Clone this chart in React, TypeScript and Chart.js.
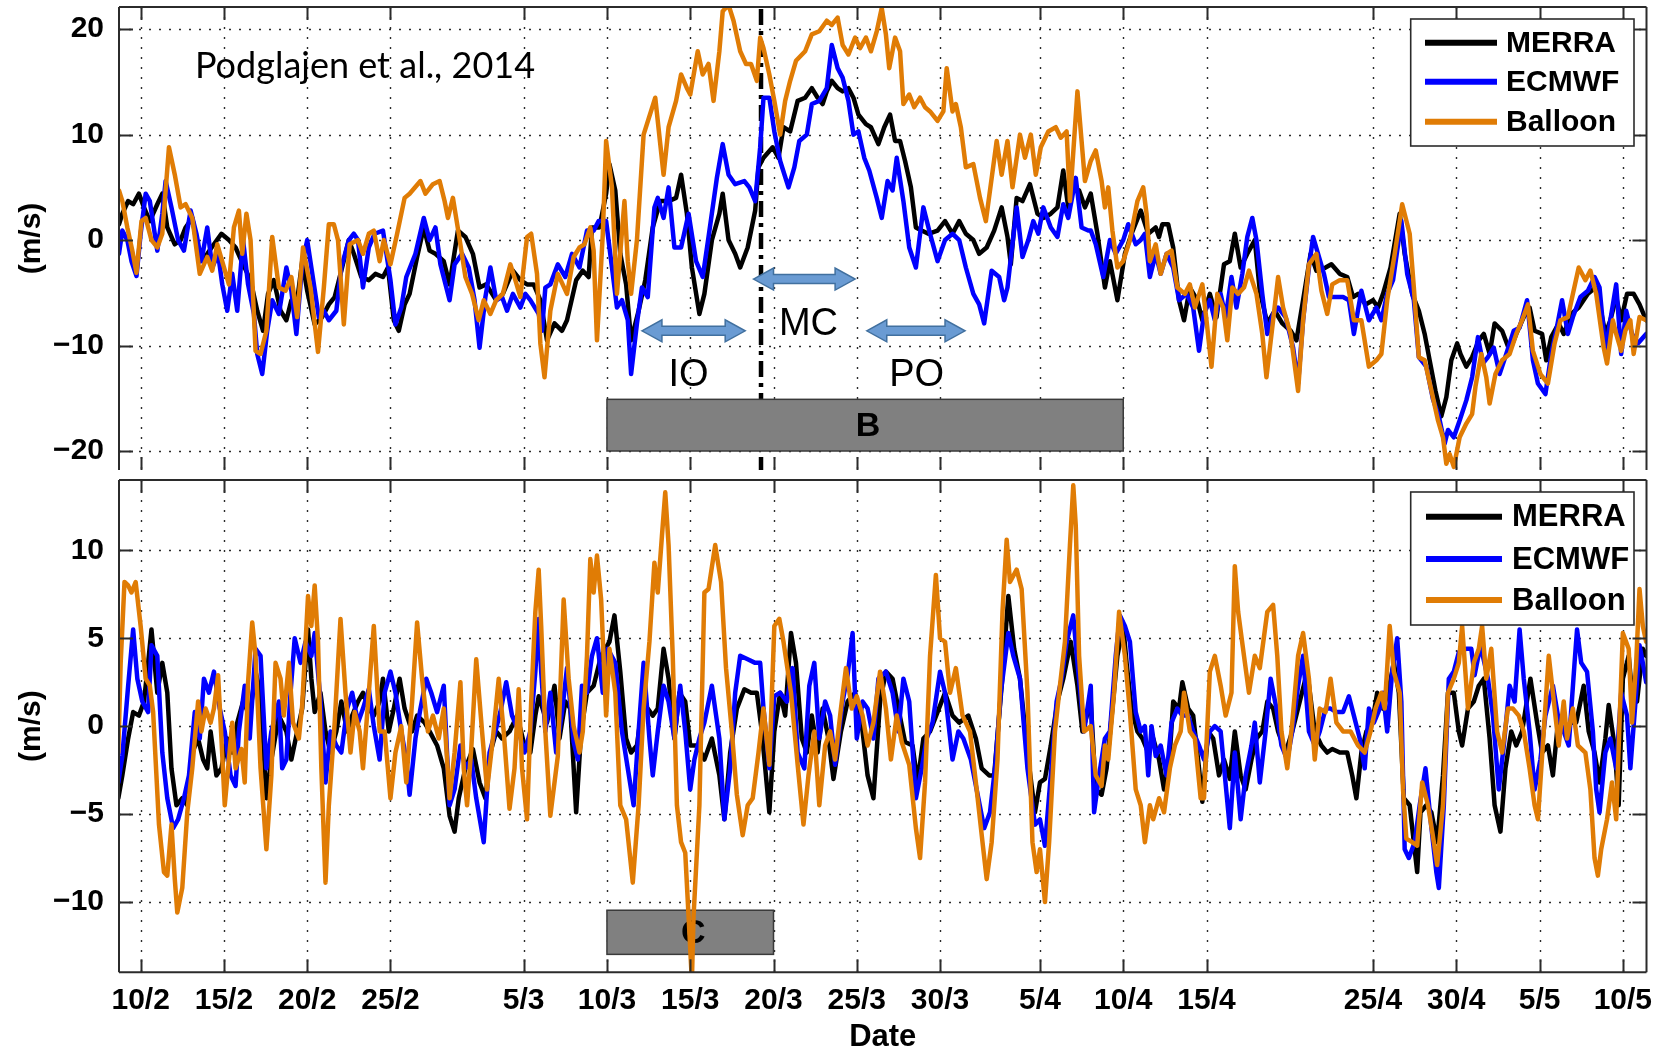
import React, { useEffect, useRef } from 'react';
import { Chart, registerables } from 'chart.js';

Chart.register(...registerables);

const FONT = '"Liberation Sans", Arial, Helvetica, sans-serif';

// x axis: day index (Feb d -> d, Mar d -> 28+d, Apr d -> 59+d, May d -> 89+d)
const xMin = 8.7;
const xMax = 100.42;
const xTickDays = [10, 15, 20, 25, 33, 38, 43, 48, 53, 58, 64, 69, 74, 84, 89, 94, 99];
const xTickLabels = ['10/2', '15/2', '20/2', '25/2', '5/3', '10/3', '15/3', '20/3', '25/3', '30/3', '5/4', '10/4', '15/4', '25/4', '30/4', '5/5', '10/5'];

const topYMin = -21.8;
const topYMax = 22.1;
const topYTicks = [-20, -10, 0, 10, 20];
const botYMin = -14;
const botYMax = 14;
const botYTicks = [-10, -5, 0, 5, 10];

const seriesLabels = ['MERRA', 'ECMWF', 'Balloon'];
const seriesColors = ['#000000', '#0000ff', '#e07c05'];

type Pt = [number, number];

// ---------- top panel ----------
const topMerra: Pt[] = [
  [8.7,1.5],[8.9,2.5],[9.25,3.7],[9.55,3.4],[9.9,4.4],[10.2,3.1],[10.55,1.8],[11,3.4],[11.3,4.4],[11.6,1.2],[12.05,-0.4],[12.4,0],[12.7,1.2],[13.1,2.1],[13.55,-2],[14,-1.3],[14.4,-0.4],[14.85,0.6],[15.3,0],[15.7,-0.7],[16.15,-2.3],[16.6,-3.8],[17,-6.7],[17.35,-8.6],[17.65,-5.1],[18,-3.8],[18.4,-6.7],[18.75,-7.6],[19.05,-5.7],[19.4,-5.7],[19.7,-2],[20,-4.8],[20.45,-8],[20.9,-7.3],[21.3,-6.1],[21.65,-5.4],[22.05,-2.9],[22.5,0],[22.8,-1.3],[23.25,-3.5],[23.7,-3.8],[24.1,-3.2],[24.55,-3.5],[24.85,-2.6],[25.2,-7.6],[25.5,-8.6],[25.85,-6.1],[26.15,-5.1],[26.6,-1.6],[27,1.2],[27.35,-1],[27.7,-1.3],[28.2,-2],[28.55,-4.2],[29.05,0.9],[29.5,0.3],[29.95,-1.3],[30.35,-4.5],[30.75,-4.2],[31.35,-5.7],[31.75,-5.1],[32.35,-2.9],[32.8,-3.8],[33.2,-4.2],[33.6,-4.2],
  [34,-5.7],[34.4,-9.5],[34.85,-7.9],[35.3,-8.6],[35.6,-7.6],[36.15,-3.8],[36.55,-2.9],[36.9,-3.5],[37.1,1.2],[37.55,1.2],[37.95,4.4],[38.15,7.2],[38.5,4.7],[38.8,-1.3],[39.15,-4.2],[39.45,-9.5],[39.9,-6.7],[40.3,-3.8],[40.75,1.2],[41.2,3.7],[41.7,3.7],[42.15,4],[42.45,6.2],[42.8,2.5],[43.1,-2.6],[43.55,-7],[43.85,-5.1],[44.3,0],[44.75,2.5],[44.95,4.4],[45.3,0],[45.7,-1.3],[46,-2.6],[46.45,-0.7],[46.9,2.8],[47.1,6.9],[47.4,7.8],[47.95,8.8],[48.3,7.8],[48.6,10.7],[49,10.3],[49.45,13.2],[49.9,13.5],[50.3,14.4],[50.65,13.5],[50.95,12.9],[51.2,14.1],[51.5,15.1],[51.85,14.4],[52.15,14.1],[52.5,14.4],[52.8,13.5],[53.1,11.9],[53.55,11],[53.85,10.7],[54.3,9.1],[54.65,10.7],[55,11.9],[55.3,9.4],[55.6,9.4],[55.9,7.5],[56.25,5],[56.55,1.2],[56.9,0.9],[57.3,0.6],[57.85,0.9],[58.3,1.8],[58.75,0.6],[59.15,1.8],[59.55,0.6],[60,0],[60.35,-1.3],[60.8,-0.7],[61.25,0.9],[61.7,3.1],[62.05,0.3],[62.25,-2.3],[62.6,4],[62.95,3.7],[63.4,5.3],[63.85,2.5],[64.2,2.1],[64.65,2.5],[65.05,3.1],[65.4,6.6],[65.7,3.1],[66,5],[66.35,4.7],[66.7,3.1],
  [67.05,4.4],[67.45,0.6],[67.9,-4.5],[68.2,-2],[68.65,-5.7],[69.1,-1.3],[69.5,0.6],[70.05,2.8],[70.5,0.6],[70.95,1.2],[71.15,0.3],[71.35,1.5],[71.7,1.5],[72,-0.7],[72.35,-5.7],[72.65,-7.6],[73,-4.5],[73.45,-5.7],[73.75,-7.6],[74.2,-5.1],[74.6,-7.3],[75.05,-2.3],[75.4,-2],[75.7,0.6],[76.05,-2.6],[76.45,-1.3],[76.9,0],[77.2,-4.8],[77.65,-7.9],[78.1,-6.7],[78.55,-7.9],[79.05,-8.6],[79.4,-9.5],[79.8,-5.7],[80.25,-1.3],[80.6,-2.9],[81.15,-2.6],[81.5,-2.3],[82,-3.2],[82.45,-3.5],[82.8,-5.4],[83.1,-5.1],[83.55,-6.1],[84,-5.7],[84.3,-6.4],[84.6,-5.1],[85.05,-2.6],[85.6,2.5],[85.9,-1.3],[86.35,-5.1],[86.75,-6.7],[87.1,-8.9],[87.4,-11.4],[87.75,-14.3],[88.1,-16.7],[88.4,-14.9],[88.7,-11.4],[89.05,-9.8],[89.25,-10.8],[89.6,-12],[89.95,-11.1],[90.35,-9.5],[90.65,-8.9],[91,-10.8],[91.3,-7.9],[91.75,-8.6],[92.2,-10.5],[92.6,-8.9],[93.05,-7.3],[93.4,-6.4],[93.7,-8.6],[94.15,-8.9],[94.4,-11.4],[94.7,-9.2],[95.15,-7.9],[95.45,-8.9],[95.9,-7],[96.35,-6.4],[96.9,-5.1],[97.35,-4.5],[97.65,-6.4],[97.95,-8.9],[98.25,-7.6],[98.6,-5.4],[98.9,-7.6],[99.25,-5.1],[99.65,-5.1],[100,-6.1],[100.4,-7.6],
];

const topEcmwf: Pt[] = [
  [8.7,-1.3],[8.9,0.9],[9.2,0],[9.45,-2],[9.75,-3.4],[10,0.6],[10.3,4.4],[10.55,3.7],[11,-1],[11.3,2.5],[11.5,5.6],[11.85,3.1],[12.25,0],[12.6,-1],[13,2.8],[13.35,0.6],[13.65,-2],[14,1.2],[14.3,-2.6],[14.65,-1.3],[14.9,-4.2],[15.2,-6.7],[15.5,-3.2],[15.8,-6.7],[16.15,0],[16.45,-4.2],[16.8,-7],[17,-10.8],[17.3,-12.7],[17.6,-8.6],[17.9,-5.7],[18.3,-7],[18.75,-2.6],[19.05,-4.8],[19.35,-8.9],[19.7,-2.3],[20,0],[20.25,-2.6],[20.7,-7.3],[21,-6.7],[21.3,-7.6],[21.75,-6.7],[22.05,-2.6],[22.5,0],[22.8,0.6],[23.05,0],[23.35,-4.5],[23.7,-0.7],[24.05,0.6],[24.55,0.9],[25,-3.8],[25.3,-8],[25.65,-6.4],[25.95,-3.5],[26.5,-1.3],[27,2.1],[27.35,0],[27.7,1.2],[28,-2.3],[28.55,-5.7],[28.85,-2.3],[29.3,-1.3],[29.7,-2.6],[30.05,-5.7],[30.35,-10.2],[30.7,-5.4],[31,-2.6],[31.35,-5.7],[31.7,-5.4],[32,-6.7],[32.35,-5.1],[32.8,-6.4],[33.1,-5.1],[33.4,-5.7],[33.9,-7],
  [34.1,-8.6],[34.3,-4.5],[34.6,-4.2],[35.05,-2.3],[35.5,-3.5],[35.9,-1.3],[36.35,-2.6],[36.8,0.9],[37.2,0.9],[37.5,1.8],[37.95,1.8],[38.3,-2.6],[38.6,-6.4],[38.9,-5.7],[39.25,-7.6],[39.45,-12.7],[39.8,-7.9],[40.1,-4.5],[40.45,-5.4],[40.85,3.1],[41.05,4],[41.4,2.1],[41.7,5],[42.05,-0.7],[42.45,-0.7],[42.9,2.5],[43.35,-2],[43.75,-3.5],[44.1,0.3],[44.6,5.9],[44.95,9.1],[45.3,6.2],[45.7,5.3],[46.25,5.6],[46.55,5],[46.9,3.7],[47.2,8.8],[47.4,13.5],[47.75,13.5],[48.05,10.3],[48.4,7.5],[48.9,5],[49.25,6.9],[49.55,9.4],[50,10],[50.3,12.9],[50.75,13.2],[51.2,14.4],[51.5,18.5],[51.85,16.3],[52.15,15.4],[52.5,13.2],[52.8,10],[53.1,10.3],[53.45,7.8],[53.75,6.6],[54.2,4],[54.5,2.1],[54.85,5.6],[55.15,4.7],[55.4,7.8],[55.8,3.7],[56.15,-0.7],[56.55,-2.6],[57,3.1],[57.4,0.6],[57.85,-2],[58.3,0],[58.75,0.6],[59.15,0],[59.55,-2.6],[60,-5.1],[60.35,-6.1],[60.65,-7.9],[61.1,-2.9],[61.55,-3.5],[61.85,-5.7],[62.05,-4.5],[62.6,3.1],[62.95,-1.6],[63.3,0],[63.6,1.8],[63.9,0.6],[64.2,3.1],[64.65,1.2],[65.05,0.3],[65.4,3.4],[65.7,2.1],[66.15,5.9],[66.5,1.2],[66.9,0.9],
  [67.05,0.9],[67.35,-0.4],[67.8,-3.5],[68.2,0],[68.55,-1.3],[69,0],[69.3,1.5],[69.75,-0.4],[70.05,0],[70.3,0.6],[70.6,-3.5],[70.95,-1.3],[71.25,-3.2],[71.6,-1.3],[72,-2.6],[72.35,-5.7],[72.8,-5.1],[73.2,-6.4],[73.55,-10.5],[73.85,-7],[74.2,-5.7],[74.5,-7.6],[74.85,-5.1],[75.15,-7.3],[75.5,-3.5],[75.8,-6.4],[76.15,-3.2],[76.45,0.3],[76.75,2.1],[77,0],[77.35,-5.1],[77.65,-8.9],[78,-7],[78.3,-6.4],[78.75,-7.3],[79.2,-10.2],[79.5,-13.6],[79.8,-7.6],[80.15,-2.6],[80.4,0.3],[80.7,-1.3],[81.05,-3.2],[81.35,-5.4],[81.8,-5.4],[82.2,-5.4],[82.55,-5.7],[82.85,-8.9],[83.3,-4.8],[83.75,-7.6],[84.2,-6.4],[84.5,-7.6],[84.85,-5.1],[85.2,-3.8],[85.7,1.8],[86.05,-3.2],[86.45,-5.7],[86.75,-11.1],[87.2,-12],[87.6,-15.1],[87.95,-16.7],[88.3,-19.3],[88.5,-18],[88.85,-18.7],[89.2,-17.1],[89.6,-15.2],[89.95,-13],[90.3,-9.2],[90.6,-11.7],[90.9,-11.1],[91.25,-10.2],[91.6,-12.7],[92,-10.8],[92.45,-8.6],[92.8,-8.3],[93.25,-5.7],[93.6,-11.4],[93.9,-13.6],[94.35,-14.6],[94.7,-10.8],[95,-8.6],[95.35,-5.7],[95.7,-8.9],[96,-7.3],[96.45,-5.4],[96.9,-4.8],[97.3,-3.5],[97.6,-4.5],[97.95,-10.5],[98.25,-7.6],[98.6,-4.2],[98.9,-10.8],[99.2,-6.7],[99.55,-8.9],[99.9,-9.8],[100.4,-8.9],
];

const topBalloon: Pt[] = [
  [8.7,4.7],[8.9,3.7],[9.2,1.2],[9.5,-1.0],[9.75,-3.1],[10.05,1.8],[10.3,2.1],[10.65,0],[11,-0.7],[11.3,0.6],[11.7,8.8],[12.05,6.2],[12.4,3.1],[12.7,3.4],[13.1,2.1],[13.55,-3.2],[14,-1.6],[14.3,-2.9],[14.6,-0.4],[14.95,-2.3],[15.3,-4.2],[15.6,1.2],[15.9,2.8],[16.1,-1.3],[16.35,2.5],[16.6,0],[16.9,-10.5],[17.2,-10.8],[17.55,-8.6],[17.9,0.3],[18.3,-4.5],[18.7,-4.8],[19.05,-3.5],[19.4,-7.3],[19.75,-0.7],[20.2,-4.5],[20.65,-10.6],[21,-4.5],[21.3,1.5],[21.6,1.5],[21.85,0],[22.2,-8],[22.55,-0.4],[23.05,0],[23.35,-1.3],[23.7,0.6],[24,0.9],[24.35,-2],[24.6,0],[25,-2.3],[25.4,0.6],[25.85,4],[26.15,4.4],[26.8,5.6],[27.1,4.4],[27.55,5.3],[27.95,5.6],[28.25,3.7],[28.45,2.1],[28.75,4],[29.1,0.6],[29.5,-3.5],[29.9,-5.1],[30.3,-7.6],[30.6,-5.7],[31,-7],[31.35,-5.7],[31.75,-5.1],[32.2,-2.3],[32.5,-3.8],[32.8,-5.4],[33.2,0.3],[33.45,0.6],[33.8,-3.2],[34,-9.8],[34.25,-13],
  [34.6,-6.7],[35.05,-3.2],[35.6,-5.1],[36,-1.6],[36.35,-0.7],[36.65,-0.4],[37,1.2],[37.2,-1],[37.4,-9.5],[37.75,0.6],[37.95,9.4],[38.3,5],[38.6,-5.1],[39.05,3.7],[39.25,-2],[39.45,-5.1],[39.8,0],[40.2,10],[40.9,13.5],[41.4,6.2],[41.7,10.7],[42.15,13.2],[42.45,15.7],[42.8,14.4],[43,13.8],[43.45,17.9],[43.75,15.7],[44.1,16.7],[44.4,13.2],[44.75,17.9],[44.95,21.7],[45.3,22.3],[45.6,20.8],[46,17.9],[46.35,16.7],[46.65,16.7],[47,15.1],[47.2,19.2],[47.4,18.2],[47.75,15.7],[48.05,13.2],[48.4,10],[48.7,13.2],[49,15.1],[49.35,17],[49.9,17.9],[50.3,19.5],[50.75,19.8],[51.2,20.8],[51.5,20.4],[51.85,21.1],[52.15,18.5],[52.5,17.6],[52.9,19.2],[53.2,18.2],[53.55,19.2],[53.85,17.9],[54.2,19.8],[54.5,22],[54.75,19.5],[54.95,16.3],[55.3,19.2],[55.6,17.9],[55.8,12.9],[56.15,13.8],[56.45,12.6],[56.8,13.5],[57.1,12.6],[57.4,12.2],[57.85,11.3],[58.2,12.2],[58.4,16.3],[58.75,12.2],[58.95,12.9],[59.25,10.7],[59.55,6.9],[60,7.2],[60.4,4],[60.75,1.8],[61.05,5.3],[61.4,9.4],[61.7,6.2],[62.05,9.4],[62.35,5],[62.8,10],[63.1,7.8],[63.45,10],[63.75,6.2],[64.05,8.8],[64.5,10.3],[64.95,10.7],[65.25,9.7],[65.6,10.3],[65.8,3.7],[66.25,14.1],[66.7,5.6],
  [67.05,7.5],[67.35,8.5],[67.7,5.6],[67.9,3.1],[68.1,5],[68.35,0.9],[68.65,-2.6],[69,-2],[69.4,0],[69.85,3.7],[70.2,5],[70.4,2.5],[70.6,-2],[70.95,-0.4],[71.25,-3.2],[71.6,-1.3],[71.9,-1],[72.25,-4.5],[72.7,-5.1],[73,-4.2],[73.3,-6.4],[73.75,-4.2],[74,-7.6],[74.3,-12],[74.65,-5.1],[75,-6.4],[75.25,-9.5],[75.55,-4.5],[75.9,-5.1],[76.25,-4.5],[76.55,-2.9],[77,-5.1],[77.35,-8.9],[77.6,-13],[78,-7.6],[78.3,-3.5],[78.6,-6.4],[79.05,-8.9],[79.5,-14.3],[79.8,-7.6],[80.15,-2.3],[80.6,-1.3],[80.9,-4.8],[81.25,-7],[81.55,-4.2],[82,-3.8],[82.45,-3.8],[82.85,-7.6],[83.3,-7.6],[83.75,-12],[84.2,-11.4],[84.5,-10.8],[84.85,-5.7],[85.3,-1.3],[85.75,3.4],[86.2,0.6],[86.45,-4.5],[86.75,-11.1],[87.1,-11.4],[87.55,-14.6],[87.9,-17.1],[88.2,-18.7],[88.4,-21.2],[88.6,-20.3],[88.85,-21.5],[89.2,-18.7],[89.6,-17.4],[89.95,-16.5],[90.15,-13.9],[90.5,-10.8],[90.8,-13],[91,-15.5],[91.35,-12.7],[91.75,-11.4],[92.2,-10.8],[92.6,-8.9],[92.95,-7.6],[93.3,-6.1],[93.6,-10.5],[94.05,-12.7],[94.5,-13.6],[94.9,-9.8],[95.25,-7.6],[95.7,-7.3],[96,-5.1],[96.35,-2.6],[96.75,-3.8],[97.05,-2.9],[97.4,-5.1],[97.85,-10.2],[98.05,-11.7],[98.4,-7.6],[98.6,-8.9],[98.9,-10.5],[99.15,-8.6],[99.45,-7.6],[99.65,-10.8],[100,-7.3],[100.4,-7.6],
];

// ---------- bottom panel ----------
const botMerra: Pt[] = [
  [8.66,-4.1],[8.9,-2.8],[9.25,-0.7],[9.55,0.8],[9.9,0.6],[10.2,1.4],[10.45,3.6],[10.65,5.5],[11,1.9],[11.3,3.6],[11.6,1.9],[11.85,-2.4],[12.15,-4.5],[12.5,-4.1],[12.8,-4.5],[13.1,-1.5],[13.45,-0.7],[13.75,-1.9],[14,-2.4],[14.2,-0.3],[14.55,-2.8],[14.85,-2.4],[15.2,-0.7],[15.5,-1.5],[15.8,0.2],[16.15,1.4],[16.55,0.6],[16.9,3.1],[17.2,1.9],[17.55,-4.1],[17.85,-1.9],[18.3,0.6],[18.75,-0.3],[19.05,-1.9],[19.4,-0.3],[19.7,1],[20.05,5.5],[20.25,2.7],[20.45,0.8],[20.8,1.9],[21.1,-0.3],[21.4,-1.5],[21.75,-0.3],[22.05,1.4],[22.4,-0.3],[22.7,0.6],[23.05,1.4],[23.35,1.9],[23.7,1],[24,0.6],[24.35,1.4],[24.55,2.7],[24.9,-0.3],[25.2,1],[25.55,2.7],[25.85,1],[26.3,-0.3],[26.6,0.6],[27.05,0.2],[27.35,-0.3],[27.8,-1.1],[28.2,-2.4],[28.55,-5.1],[28.85,-6],[29.1,-4.1],[29.5,-2.4],[29.95,-1.3],[30.35,-3.2],[30.7,-4.1],[31,-1.5],[31.35,-0.3],[31.7,-0.7],[32.15,-0.3],[32.6,0.6],[33.05,-1.1],[33.4,-1.5],[33.7,0.6],[33.9,1.7],
  [34.4,0.2],[34.85,2.3],[35.15,-0.7],[35.5,1.4],[35.8,1],[36.15,-4.9],[36.45,-0.3],[36.8,1.9],[37.2,2.3],[37.65,4],[38.15,4.8],[38.45,6.3],[38.8,3.1],[39.15,-0.7],[39.45,-1.5],[39.8,-1.1],[40.1,1],[40.45,1],[40.75,0.6],[41.05,1],[41.4,4.4],[41.7,2.7],[42.05,-0.7],[42.35,1.9],[42.7,1.4],[43,-1.1],[43.45,-1.1],[43.85,-1.9],[44.3,-0.7],[44.75,-2.8],[45.05,-5.3],[45.4,-1.5],[45.8,1],[46.25,2.1],[46.65,1.9],[47,1.9],[47.3,-0.3],[47.75,-4.9],[48.05,-0.3],[48.4,1.9],[48.7,0.6],[49.05,5.3],[49.35,3.6],[49.7,-0.7],[50,-1.5],[50.3,0.6],[50.65,-1.5],[50.95,1],[51.3,-0.7],[51.6,-3],[52.05,-0.3],[52.45,1.4],[52.9,1.9],[53.35,-0.3],[53.65,-2.8],[54,-4.1],[54.4,1.4],[54.75,3.1],[55.15,2.7],[55.5,1],[55.9,-0.9],[56.35,-1.1],[56.65,-3.2],[57,-0.7],[57.4,-0.3],[57.85,0.8],[58.3,1.9],[58.75,0.6],[59.15,0.2],[59.7,0.6],[60.15,-0.7],[60.5,-2.4],[60.95,-2.8],[61.25,-2.8],[61.7,2.3],[62.1,7.4],[62.45,4.4],[62.8,2.7],[63.25,-1.5],[63.7,-4.9],[64,-3.2],[64.3,-3],[64.65,-1.1],[65.05,1.4],[65.4,2.7],[65.85,4.8],[66.25,2.3],[66.55,-0.3],
  [67.05,1.4],[67.35,-3.6],[67.7,-3.9],[68,-2.4],[68.35,1],[68.65,4],[69,5.7],[69.2,3.6],[69.5,1],[69.85,-0.3],[70.15,-0.7],[70.5,-1.5],[70.8,-0.7],[71.15,-1.9],[71.45,-3.6],[71.8,-1.5],[72,1.4],[72.35,1],[72.55,2.5],[72.9,1],[73.2,0.6],[73.55,-2.4],[73.75,-4.3],[74.1,-0.3],[74.4,-0.7],[74.75,-2.8],[75.05,-1.9],[75.4,-3],[75.7,-0.3],[76.05,-2.8],[76.35,-3.6],[76.7,-1.9],[77,-0.7],[77.35,-0.3],[77.65,1.4],[78,1],[78.3,-0.3],[78.75,-1.5],[79.15,-0.3],[79.6,1.4],[80.05,3.1],[80.5,-0.3],[80.9,-1.1],[81.25,-1.5],[81.55,-1.3],[82,-1.5],[82.45,-1.5],[82.75,-2.8],[83,-4.1],[83.3,-1.5],[83.6,-0.3],[83.95,0.2],[84.25,1.9],[84.6,1],[84.9,1.9],[85.25,3.6],[85.55,1.9],[85.85,-4.1],[86.2,-4.5],[86.45,-6.6],[86.65,-8.3],[86.85,-4.9],[87.2,-4.5],[87.5,-4.9],[87.85,-6.6],[88.2,-2.8],[88.5,1.9],[88.85,1.9],[89.15,-0.3],[89.35,-1.1],[89.7,1],[90.05,1.4],[90.35,2.3],[90.65,2.7],[91,-0.7],[91.3,-4.5],[91.65,-6],[91.95,-2.4],[92.3,-0.3],[92.6,-1.1],[92.95,-0.3],[93.45,2.7],[93.85,0.2],[94.15,-1.5],[94.5,-1.1],[94.8,-2.8],[95.1,0.2],[95.45,-0.3],[95.9,0.2],[96.2,0.2],[96.65,2.3],[96.95,-0.3],[97.3,-1.5],[97.6,-3.2],[97.95,-0.7],[98.15,1.2],[98.5,-1.1],[98.75,-4.5],[99,2.7],[99.35,4],[99.55,1.9],[99.85,1.4],[100.2,4.4],[100.4,4],
];

const botEcmwf: Pt[] = [
  [8.66,-3.2],[8.9,-1.7],[9.25,2.3],[9.55,5.5],[9.8,2.7],[10.1,1.4],[10.45,0.8],[10.65,4.6],[11,4],[11.3,-1.5],[11.6,-4.1],[11.95,-5.8],[12.25,-5.3],[12.6,-4.1],[12.9,-2.8],[13.25,0.8],[13.55,-0.7],[13.8,2.7],[14.1,1.9],[14.4,3.1],[14.75,1],[15.05,-0.3],[15.4,-2.8],[15.7,-3.4],[15.9,-0.3],[16.25,2.3],[16.55,-0.7],[16.9,4.4],[17.2,4],[17.55,-2.4],[17.85,-0.3],[18.3,1.4],[18.5,-2.4],[18.75,-1.9],[19,1.9],[19.25,5],[19.6,3.6],[19.9,4.8],[20.25,4],[20.45,5.3],[20.8,1.4],[21.1,-3.2],[21.4,-0.3],[21.75,-1.1],[22.05,-1.5],[22.4,1],[22.7,1.9],[23.05,0.2],[23.35,1],[23.7,2.1],[24,0],[24.35,-1.9],[24.65,1.9],[25,3.1],[25.3,1.9],[25.65,-0.3],[25.95,-1.9],[26.15,-3.9],[26.5,-0.7],[26.8,1],[27.15,2.7],[27.45,1.9],[27.8,0.8],[28.2,2.3],[28.55,-4.5],[28.85,-3.6],[29.2,-1.1],[29.5,-2.4],[29.85,-1.9],[30.15,-4.1],[30.6,-6.6],[30.95,-1.5],[31.3,-0.3],[31.6,0.8],[31.95,2.5],[32.3,0.6],[32.7,-0.3],[33.05,-1.5],[33.4,-0.3],[33.7,3.1],[33.9,6.1],
  [34.05,3.1],[34.3,-0.3],[34.6,1.9],[34.95,-1.5],[35.3,0.8],[35.6,3.3],[36,-0.9],[36.25,-1.9],[36.5,2.3],[36.8,1.9],[37.1,4],[37.4,5],[37.75,1.9],[38.05,4.4],[38.5,3.6],[38.9,-0.3],[39.25,-2.4],[39.6,-4.5],[39.9,-0.3],[40.2,3.6],[40.55,-0.7],[40.75,-2.8],[41.05,-0.3],[41.4,2.3],[41.7,1.4],[42.05,-0.7],[42.4,2.3],[42.7,-0.3],[43,-3.6],[43.25,-1.9],[43.55,-0.7],[43.85,0.2],[44.3,2.3],[44.75,-0.7],[45.05,-5.3],[45.4,-2.4],[45.7,1.9],[46,4],[46.45,3.8],[46.9,3.6],[47.2,3.6],[47.4,1],[47.75,-2.4],[48.05,1.7],[48.4,1.9],[48.8,1.4],[49.15,3.3],[49.45,-1.5],[49.85,-2.4],[50.15,2.3],[50.45,3.6],[50.75,-0.7],[51.1,1.4],[51.4,0.6],[51.7,-2.2],[52.15,1.4],[52.45,2.9],[52.75,5.3],[53,-0.7],[53.35,1.4],[53.65,1],[54,-0.7],[54.3,2.7],[54.75,3.1],[55.15,1.9],[55.5,-0.3],[55.8,2.7],[56.15,1.4],[56.55,-4.1],[56.9,-2.4],[57.2,-0.7],[57.55,0.2],[58,3.1],[58.3,1.9],[58.75,-1.9],[59.1,-0.3],[59.4,-0.7],[59.85,-1.9],[60.3,-4.1],[60.65,-5.8],[61,-4.9],[61.3,-2.4],[61.65,1.9],[62.1,5.3],[62.4,4],[62.8,2.7],[63.25,-2.4],[63.7,-5.6],[64,-5.3],[64.3,-6.8],[64.65,-2.8],[65,1.4],[65.3,2.7],[65.6,4.8],[66,6.3],[66.25,3.6],[66.65,-0.3],
  [67.05,2.3],[67.25,-4.9],[67.55,-2.8],[67.9,-0.7],[68.2,-0.3],[68.55,4],[68.8,6.3],[69.1,5.7],[69.4,4.8],[69.75,0.8],[70.05,-0.3],[70.3,0],[70.5,-2.8],[70.7,0],[70.95,-1.7],[71.25,-1.1],[71.6,-2.8],[71.9,0.2],[72.25,1],[72.55,0.6],[72.9,0.6],[73.2,-0.3],[73.55,-1.1],[73.85,-1.9],[74.2,-0.3],[74.5,0],[74.85,-0.3],[75.1,-2.8],[75.4,-5.8],[75.7,-1.5],[76.05,-5.3],[76.35,-2.8],[76.7,-1.1],[76.9,0.2],[77.2,-3.2],[77.55,-0.3],[77.85,2.7],[78.2,1],[78.5,-1.1],[78.85,-1.9],[79.15,-0.3],[79.5,2.3],[79.8,4],[80.15,-0.3],[80.5,-1.1],[80.8,-0.3],[81.15,1],[81.45,1],[81.8,0.8],[82.2,0.8],[82.55,1.7],[82.85,0.6],[83.2,-0.7],[83.5,-2.4],[83.75,1],[84.05,0.2],[84.4,1],[84.6,1.9],[84.85,-0.3],[85.15,3.1],[85.45,5],[85.7,1.4],[85.9,-7],[86.15,-7.5],[86.5,-6.6],[86.8,-4.5],[87.15,-2.4],[87.45,-5.3],[87.8,-8.3],[87.95,-9.2],[88.25,-4.5],[88.55,2.7],[88.85,3.1],[89.15,4.2],[89.6,4.4],[89.9,4.4],[90.1,2.9],[90.45,4.6],[90.9,2.7],[91.2,0.6],[91.55,-3.6],[91.85,-1.1],[92.2,2.3],[92.5,1.4],[92.8,5.5],[93.05,2.7],[93.4,-0.3],[93.7,-3.6],[94.05,-1.9],[94.35,0.6],[94.8,2.3],[95.1,0.6],[95.45,-0.3],[95.75,-1.1],[96.1,3.6],[96.25,5.5],[96.5,3.6],[96.85,3.1],[97.2,-0.3],[97.4,-3.6],[97.6,-4.9],[97.95,-1.5],[98.25,-0.7],[98.6,-2.4],[98.9,1.9],[99.25,0.6],[99.45,-2.4],[99.8,1.9],[100,4.6],[100.2,3.6],[100.4,2.5],
];

const botBalloon: Pt[] = [
  [8.66,-1.5],[8.8,3.6],[9.03,8.2],[9.25,8],[9.45,7.6],[9.7,8.2],[10,5.7],[10.3,2.7],[10.55,2.3],[10.75,0.8],[11.1,-5.6],[11.4,-8.3],[11.6,-8.5],[11.85,-5.6],[12.05,-8.7],[12.2,-10.6],[12.5,-9.2],[12.8,-4.9],[13.1,-2.4],[13.45,1.4],[13.65,-0.3],[13.9,1],[14.2,0.2],[14.4,1],[14.65,2.9],[14.85,-0.7],[15.05,-4.5],[15.3,-1.9],[15.5,0.2],[15.7,-2.4],[16.05,-1.3],[16.25,-3.2],[16.45,2.5],[16.7,5.9],[16.9,4],[17.2,-2.4],[17.55,-7],[17.85,-2.8],[18.1,3.6],[18.4,2.7],[18.6,0.6],[18.9,3.6],[19.15,0.2],[19.5,-0.7],[19.7,1.2],[20.05,7.4],[20.25,5.7],[20.45,8],[20.65,4.8],[20.85,-2.4],[21.1,-8.9],[21.3,-4.5],[21.65,0.2],[22,6.1],[22.3,1.9],[22.6,-1.5],[22.85,0.8],[23.15,-0.3],[23.35,-2.4],[23.7,1.9],[24,5.7],[24.35,-0.3],[24.65,-0.3],[25,-4.1],[25.3,-1.5],[25.65,0],[25.95,-3.2],[26.3,1.4],[26.6,5.9],[26.9,2.7],[27.25,-0.3],[27.55,0.6],[27.9,-0.7],[28.2,1],[28.55,-4.1],[28.85,-1.5],[29.2,2.5],[29.4,-2.4],[29.6,-4.5],[29.85,-1.3],[30.15,3.8],[30.5,-0.3],[30.8,-3.6],[31.15,-0.7],[31.5,2.7],[31.8,-0.3],[32.15,-4.7],[32.45,-2.4],[32.7,2.1],[32.9,-2.4],[33.2,-5.3],[33.45,1.4],[33.7,6.5],[33.9,8.9],
  [34.05,5.7],[34.3,-0.3],[34.6,-5.1],[35.05,-1.7],[35.4,7.2],[35.7,2.7],[36,0],[36.35,-1.5],[36.55,-0.3],[36.8,4],[37,9.5],[37.2,7.6],[37.4,9.7],[37.65,7.2],[37.95,0.6],[38.15,4.4],[38.5,1.9],[38.8,-4.5],[39.15,-5.3],[39.55,-8.9],[39.9,-4.5],[40.2,1],[40.55,4.8],[40.85,9.3],[41.05,7.6],[41.3,10.8],[41.5,13.3],[41.7,10.3],[41.95,4],[42.2,-4.5],[42.45,-6.6],[42.7,-7.2],[42.9,-10.8],[43.1,-14.5],[43.2,-10.8],[43.55,-4.5],[43.85,7.6],[44.1,7.8],[44.5,10.3],[44.85,8.2],[45.15,3.3],[45.5,-0.3],[45.8,-3.9],[46.15,-6.2],[46.45,-4.5],[46.75,-4.1],[47.1,-1.5],[47.4,1],[47.75,-2.2],[48.05,5.7],[48.35,6.1],[48.6,4.8],[49.05,1.9],[49.45,-2.2],[49.8,-5.6],[50.1,-2.8],[50.45,-0.3],[50.75,-4.5],[51.1,-1.1],[51.4,-0.3],[51.7,-1.9],[52.05,1],[52.35,3.3],[52.7,1],[53,1.7],[53.35,0.6],[53.65,-1.1],[54,0.2],[54.4,3.1],[54.75,1],[55.05,-1.9],[55.4,0.6],[55.7,-0.9],[56.15,-2.2],[56.55,-5.8],[56.8,-7.5],[57.1,-3.2],[57.4,4],[57.75,8.6],[58,5],[58.3,4.8],[58.6,1.9],[58.95,3.3],[59.35,0.6],[59.8,-0.3],[60.2,-3.6],[60.55,-6.6],[60.8,-8.7],[61.1,-6.6],[61.45,-1.9],[61.75,6.5],[62,10.6],[62.2,8.2],[62.6,8.9],[62.9,7.8],[63.25,1.9],[63.55,-6.6],[63.8,-8.3],[64,-7],[64.3,-10],[64.55,-6.6],[64.9,-0.3],[65.2,2.3],[65.5,4.8],[65.8,10.3],[66,13.7],[66.15,11.4],[66.35,4],[66.65,-0.3],
  [67.05,0],[67.35,-2.8],[67.7,-3.4],[67.9,-1.1],[68.1,-1.9],[68.45,1.9],[68.75,6.5],[69.1,4],[69.4,0.8],[69.75,-3.6],[70.05,-4.5],[70.3,-6.6],[70.6,-4.5],[70.8,-5.3],[71.15,-4.1],[71.45,-4.9],[71.8,-2.4],[72.1,-1.1],[72.45,-0.3],[72.65,1.9],[73,-0.3],[73.3,-0.7],[73.65,-4.1],[73.85,-4.1],[74.2,3.1],[74.5,4],[74.85,2.3],[75.15,0.6],[75.5,1.9],[75.7,9.1],[75.9,6.5],[76.25,4],[76.55,1.9],[76.9,4],[77.2,3.3],[77.65,6.5],[78,6.9],[78.25,4],[78.5,-0.3],[78.85,-2.4],[79.15,0.2],[79.5,4],[79.8,5.3],[80.15,2.7],[80.5,-1.9],[80.8,1],[81.15,0.8],[81.45,2.7],[81.8,0.2],[82.2,-0.3],[82.65,-0.3],[83.1,-1.1],[83.5,-1.5],[83.85,-0.3],[84.15,1],[84.5,1.9],[84.7,1],[85,5.7],[85.25,3.1],[85.6,1.9],[85.8,-3.6],[86,-6.4],[86.35,-6.6],[86.65,-6.8],[86.95,-3.2],[87.3,-4.5],[87.65,-6.6],[87.85,-7.9],[88.2,-4.5],[88.5,1.9],[88.85,2.7],[89.15,3.6],[89.35,5.7],[89.7,1],[90.05,3.6],[90.35,4.4],[90.55,5.7],[90.8,2.7],[91.1,4.4],[91.45,-0.3],[91.75,-1.5],[92.1,1],[92.4,1],[92.75,0.6],[93.05,-0.3],[93.4,-2.4],[93.7,-4.5],[93.9,-5.3],[94.25,-0.3],[94.55,4],[94.8,1.9],[95.15,-1.1],[95.45,1.4],[95.65,-0.7],[96,1],[96.3,-1.1],[96.75,-1.5],[97.05,-3.6],[97.3,-7.5],[97.5,-8.5],[97.7,-7],[98.05,-5.3],[98.35,-3.2],[98.6,-5.3],[98.8,0.2],[99,5.3],[99.35,4.4],[99.55,0.2],[99.8,3.6],[100,7.8],[100.2,5.7],[100.4,4.8],
];

// ---------- annotations ----------
const mcLineDay = 47.25;
const regionArrows = [
  { from: 40.1, to: 46.3, y: -8.6 },
  { from: 46.8, to: 52.9, y: -3.7 },
  { from: 53.6, to: 59.5, y: -8.6 },
];
const regionLabels = [
  { text: 'IO', x: 42.9, y: -12.8 },
  { text: 'MC', x: 50.1, y: -8.0 },
  { text: 'PO', x: 56.6, y: -12.8 },
];
const boxB = { text: 'B', x0: 38, x1: 69, y0: -20, y1: -15.1 };
const boxC = { text: 'C', x0: 38, x1: 48, y0: -12.98, y1: -10.47 };
const citation = { text: 'Podglajen et al., 2014', x: 13.26, y: 16.44 };

interface LegendSpec { top: number; height: number; rowY: number[]; lineX0: number; lineX1: number; textX: number; fontSize: number; }
interface PanelSpec {
  series: Pt[][];
  yMin: number; yMax: number; yTicks: number[];
  showX: boolean;
  padding: { left: number; top: number; right: number; bottom: number };
  frameBottom: boolean;
  legend: LegendSpec;
  before?: (c: any) => void;
  after?: (c: any) => void;
}

function line(ctx: CanvasRenderingContext2D, x1: number, y1: number, x2: number, y2: number) {
  ctx.beginPath(); ctx.moveTo(x1, y1); ctx.lineTo(x2, y2); ctx.stroke();
}

function grayBox(c: any, b: typeof boxB) {
  const { ctx, scales: { x, y } } = c;
  const L = x.getPixelForValue(b.x0), R = x.getPixelForValue(b.x1);
  const T = y.getPixelForValue(b.y1), B = y.getPixelForValue(b.y0);
  ctx.save();
  ctx.fillStyle = '#808080';
  ctx.fillRect(L, T, R - L, B - T);
  ctx.strokeStyle = '#3a3a3a'; ctx.lineWidth = 1.5; ctx.setLineDash([]);
  ctx.strokeRect(L, T, R - L, B - T);
  ctx.fillStyle = '#000'; ctx.font = `bold 34px ${FONT}`; ctx.textAlign = 'center'; ctx.textBaseline = 'middle';
  ctx.fillText(b.text, (L + R) / 2 + 3, (T + B) / 2 + 1);
  ctx.restore();
}

function doubleArrow(ctx: CanvasRenderingContext2D, x1: number, x2: number, yc: number) {
  const hl = 20, hh = 11, sh = 4.5;
  ctx.beginPath();
  ctx.moveTo(x1, yc);
  ctx.lineTo(x1 + hl, yc - hh); ctx.lineTo(x1 + hl, yc - sh); ctx.lineTo(x2 - hl, yc - sh); ctx.lineTo(x2 - hl, yc - hh);
  ctx.lineTo(x2, yc);
  ctx.lineTo(x2 - hl, yc + hh); ctx.lineTo(x2 - hl, yc + sh); ctx.lineTo(x1 + hl, yc + sh); ctx.lineTo(x1 + hl, yc + hh);
  ctx.closePath();
  ctx.fillStyle = '#6a9bd3'; ctx.fill();
  ctx.strokeStyle = '#41709f'; ctx.lineWidth = 1.5; ctx.stroke();
}

const topSpec: PanelSpec = {
  series: [topMerra, topEcmwf, topBalloon],
  yMin: topYMin, yMax: topYMax, yTicks: topYTicks,
  showX: false,
  padding: { left: 0, top: 7, right: 9.5, bottom: 6 },
  frameBottom: false,
  legend: { top: 12, height: 127, rowY: [23.7, 62.7, 102.7], lineX0: 14.3, lineX1: 86.3, textX: 95.3, fontSize: 30 },
  before: (c) => {
    const { ctx, chartArea: a, scales: { x } } = c;
    const px = x.getPixelForValue(mcLineDay);
    ctx.save();
    ctx.strokeStyle = '#000'; ctx.lineWidth = 4.5; ctx.setLineDash([16, 6, 4, 6]);
    line(ctx, px, a.top + 2, px, a.bottom);
    ctx.restore();
    grayBox(c, boxB);
  },
  after: (c) => {
    const { ctx, scales: { x, y } } = c;
    ctx.save();
    ctx.setLineDash([]);
    regionArrows.forEach((ar) => doubleArrow(ctx, x.getPixelForValue(ar.from), x.getPixelForValue(ar.to), y.getPixelForValue(ar.y)));
    ctx.fillStyle = '#000'; ctx.font = `38px ${FONT}`; ctx.textAlign = 'center'; ctx.textBaseline = 'middle';
    regionLabels.forEach((t) => ctx.fillText(t.text, x.getPixelForValue(t.x), y.getPixelForValue(t.y)));
    ctx.font = '36px Lato, "Open Sans", sans-serif'; ctx.textAlign = 'left';
    ctx.fillText(citation.text, x.getPixelForValue(citation.x), y.getPixelForValue(citation.y));
    ctx.restore();
  },
};

const bottomSpec: PanelSpec = {
  series: [botMerra, botEcmwf, botBalloon],
  yMin: botYMin, yMax: botYMax, yTicks: botYTicks,
  showX: true,
  padding: { left: 0, top: 4, right: 9.5, bottom: 0 },
  frameBottom: true,
  legend: { top: 12, height: 133, rowY: [24.7, 67, 108], lineX0: 15.3, lineX1: 91.3, textX: 101.3, fontSize: 31 },
  before: (c) => grayBox(c, boxC),
};

function decorPlugin(spec: PanelSpec) {
  return {
    id: 'decor',
    beforeDatasetsDraw(c: any) {
      const { ctx, chartArea: a, scales: { x, y } } = c;
      ctx.save();
      ctx.beginPath(); ctx.rect(a.left, a.top, a.right - a.left, a.bottom - a.top); ctx.clip();
      ctx.strokeStyle = '#2b2b2b'; ctx.lineWidth = 1.4; ctx.setLineDash([2, 8]);
      xTickDays.forEach((d) => { const px = Math.round(x.getPixelForValue(d)) + 0.5; line(ctx, px, a.top, px, a.bottom); });
      spec.yTicks.forEach((v) => { const py = Math.round(y.getPixelForValue(v)) + 0.5; line(ctx, a.left, py, a.right, py); });
      ctx.restore();
      if (spec.before) spec.before(c);
    },
    afterDatasetsDraw(c: any) {
      const { ctx, chartArea: a, scales: { x, y } } = c;
      if (spec.after) spec.after(c);
      ctx.save();
      ctx.setLineDash([]);
      ctx.strokeStyle = '#2b2b2b'; ctx.lineWidth = 2;
      xTickDays.forEach((d) => {
        const px = Math.round(x.getPixelForValue(d)) + 0.5;
        line(ctx, px, a.top, px, a.top + 13);
        line(ctx, px, a.bottom, px, a.bottom - 13);
      });
      spec.yTicks.forEach((v) => {
        const py = Math.round(y.getPixelForValue(v)) + 0.5;
        line(ctx, a.left, py, a.left + 14, py);
        line(ctx, a.right, py, a.right - 14, py);
      });
      line(ctx, a.left, a.top, a.right, a.top);
      line(ctx, a.left, a.top, a.left, a.bottom);
      line(ctx, a.right, a.top, a.right, a.bottom);
      if (spec.frameBottom) line(ctx, a.left, a.bottom, a.right, a.bottom);
      const L = spec.legend;
      const bw = 223.3;
      const bl = a.right - 12.5 - bw;
      const bt = a.top + L.top;
      ctx.fillStyle = '#fff';
      ctx.fillRect(bl, bt, bw, L.height);
      ctx.lineWidth = 1.6; ctx.strokeStyle = '#2b2b2b';
      ctx.strokeRect(bl, bt, bw, L.height);
      seriesLabels.forEach((lab, i) => {
        const yy = bt + L.rowY[i];
        ctx.strokeStyle = seriesColors[i]; ctx.lineWidth = 6;
        line(ctx, bl + L.lineX0, yy, bl + L.lineX1, yy);
        ctx.fillStyle = '#000'; ctx.font = `bold ${L.fontSize}px ${FONT}`;
        ctx.textAlign = 'left'; ctx.textBaseline = 'middle';
        ctx.fillText(lab, bl + L.textX, yy + 1);
      });
      ctx.restore();
    },
  };
}

function buildConfig(spec: PanelSpec): any {
  const tickFont = { family: FONT, size: 30, weight: 'bold' as const };
  return {
    type: 'line',
    data: {
      datasets: spec.series.map((pts, i) => ({
        label: seriesLabels[i],
        data: pts.map(([x, y]) => ({ x, y })),
        borderColor: seriesColors[i],
        backgroundColor: seriesColors[i],
        borderWidth: 4.5,
        pointRadius: 0,
        tension: 0,
        fill: false,
        clip: 0,
        order: 2 - i,
        borderJoinStyle: 'round',
        borderCapStyle: 'round',
      })),
    },
    options: {
      responsive: false,
      devicePixelRatio: 1,
      animation: false,
      events: [],
      layout: { padding: spec.padding },
      plugins: { legend: { display: false }, tooltip: { enabled: false }, title: { display: false } },
      scales: {
        x: {
          type: 'linear',
          display: spec.showX,
          min: xMin,
          max: xMax,
          afterBuildTicks: (s: any) => { s.ticks = xTickDays.map((v) => ({ value: v })); },
          afterFit: (s: any) => { if (spec.showX) s.height = 80.7; s.paddingLeft = 0; s.paddingRight = 0; },
          grid: { display: false },
          border: { display: false },
          ticks: {
            autoSkip: false, maxRotation: 0, minRotation: 0, padding: 2, color: '#000', font: tickFont,
            callback: (v: number) => { const i = xTickDays.indexOf(v); return i >= 0 ? xTickLabels[i] : ''; },
          },
          title: { display: spec.showX, text: 'Date', color: '#000', font: { family: FONT, size: 31, weight: 'bold', lineHeight: 1 }, padding: { top: 0, bottom: 0 } },
        },
        y: {
          type: 'linear',
          min: spec.yMin,
          max: spec.yMax,
          afterBuildTicks: (s: any) => { s.ticks = spec.yTicks.map((v) => ({ value: v })); },
          afterFit: (s: any) => { s.width = 119; s.paddingTop = 0; s.paddingBottom = 0; },
          grid: { display: false },
          border: { display: false },
          ticks: {
            padding: 7, color: '#000', font: tickFont,
            callback: (v: number) => (v < 0 ? '\u2212' + Math.abs(v) : String(v)),
          },
          title: { display: true, text: '(m/s)', color: '#000', font: { family: FONT, size: 30, weight: 'bold' }, padding: { top: 14, bottom: 0 } },
        },
      },
    },
    plugins: [decorPlugin(spec)],
  };
}

function Panel({ spec, top, height }: { spec: PanelSpec; top: number; height: number }) {
  const ref = useRef<HTMLCanvasElement>(null);
  useEffect(() => {
    if (!ref.current) return;
    const chart = new Chart(ref.current, buildConfig(spec));
    return () => chart.destroy();
  }, [spec]);
  return (
    <canvas
      ref={ref}
      width={1656}
      height={height}
      style={{ position: 'absolute', left: 0, top, width: 1656, height, display: 'block' }}
    />
  );
}

export default function App() {
  return (
    <div style={{ position: 'absolute', left: 0, top: 0, width: 1656, height: 1053, background: '#fff', overflow: 'hidden' }}>
      <Panel spec={topSpec} top={0} height={476} />
      <Panel spec={bottomSpec} top={476} height={577} />
    </div>
  );
}
